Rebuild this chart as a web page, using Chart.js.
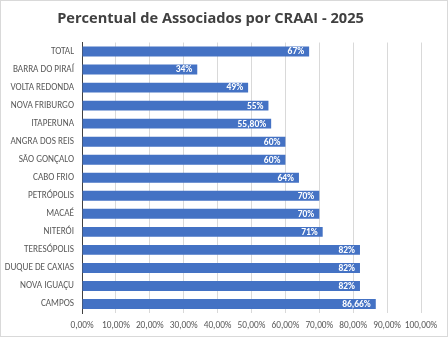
<!DOCTYPE html>
<html><head><meta charset="utf-8">
<script src="https://cdn.jsdelivr.net/npm/chart.js@4"></script>
<style>html,body{margin:0;padding:0;background:#fff}#wrap{width:448px;height:337px;position:relative}</style>
</head><body><div id="wrap"><canvas id="c" width="448" height="337"></canvas></div>
<script>
const categories = ["TOTAL","BARRA DO PIRAÍ","VOLTA REDONDA","NOVA FRIBURGO","ITAPERUNA","ANGRA DOS REIS","SÃO GONÇALO","CABO FRIO","PETRÓPOLIS","MACAÉ","NITERÓI","TERESÓPOLIS","DUQUE DE CAXIAS","NOVA IGUAÇU","CAMPOS"];
const values = [67,34,49,55,55.8,60,60,64,70,70,71,82,82,82,86.66];
const valueLabels = ["67%","34%","49%","55%","55,80%","60%","60%","64%","70%","70%","71%","82%","82%","82%","86,66%"];
const xTicks = [0,10,20,30,40,50,60,70,80,90,100];
const FONT = "Carlito, Lato, 'Open Sans', sans-serif";

const frame = {id:'frame', afterDraw(c){const x=c.ctx;x.save();x.strokeStyle='#d9d9d9';x.lineWidth=1;x.strokeRect(0.5,0.5,c.width-1,c.height-1);x.restore();}};
const dl = {id:'dl', afterDatasetsDraw(c){const x=c.ctx;const m=c.getDatasetMeta(0);x.save();x.fillStyle='#fff';x.font='bold 9.5px '+FONT;x.textAlign='right';x.textBaseline='middle';
  m.data.forEach((b,i)=>{x.fillText(valueLabels[i], b.x-5, b.y+0.5);});x.restore();}};

new Chart(document.getElementById('c'),{
  type:'bar',
  data:{labels:categories,datasets:[{data:values,backgroundColor:'#4472C4',borderWidth:0,barPercentage:0.55,categoryPercentage:1}]},
  options:{
    indexAxis:'y',responsive:false,animation:false,
    layout:{padding:{left:0,right:27,top:0,bottom:0}},
    plugins:{legend:{display:false},tooltip:{enabled:false},
      title:{display:true,text:'Percentual de Associados por CRAAI - 2025',color:'#404040',font:{family:"'Open Sans', sans-serif",size:14.6,weight:'bold'},padding:{top:10,bottom:15}}},
    scales:{
      x:{min:0,max:100,afterBuildTicks(s){s.ticks=xTicks.map(v=>({value:v}));},afterFit(s){s.height=24;},
        ticks:{autoSkip:false,callback:v=>v.toFixed(2).replace('.',',')+'%',color:'#595959',font:{family:FONT,size:9.3},padding:7,maxRotation:0},
        grid:{color:'#d9d9d9',drawTicks:false},border:{display:false}},
      y:{afterFit(s){s.width=82;},
        ticks:{color:'#595959',font:{family:FONT,size:9.2},padding:8},
        grid:{display:false,drawTicks:false},border:{display:true,color:'#404040',width:1}}
    }
  },
  plugins:[frame,dl]
});
</script></body></html>
